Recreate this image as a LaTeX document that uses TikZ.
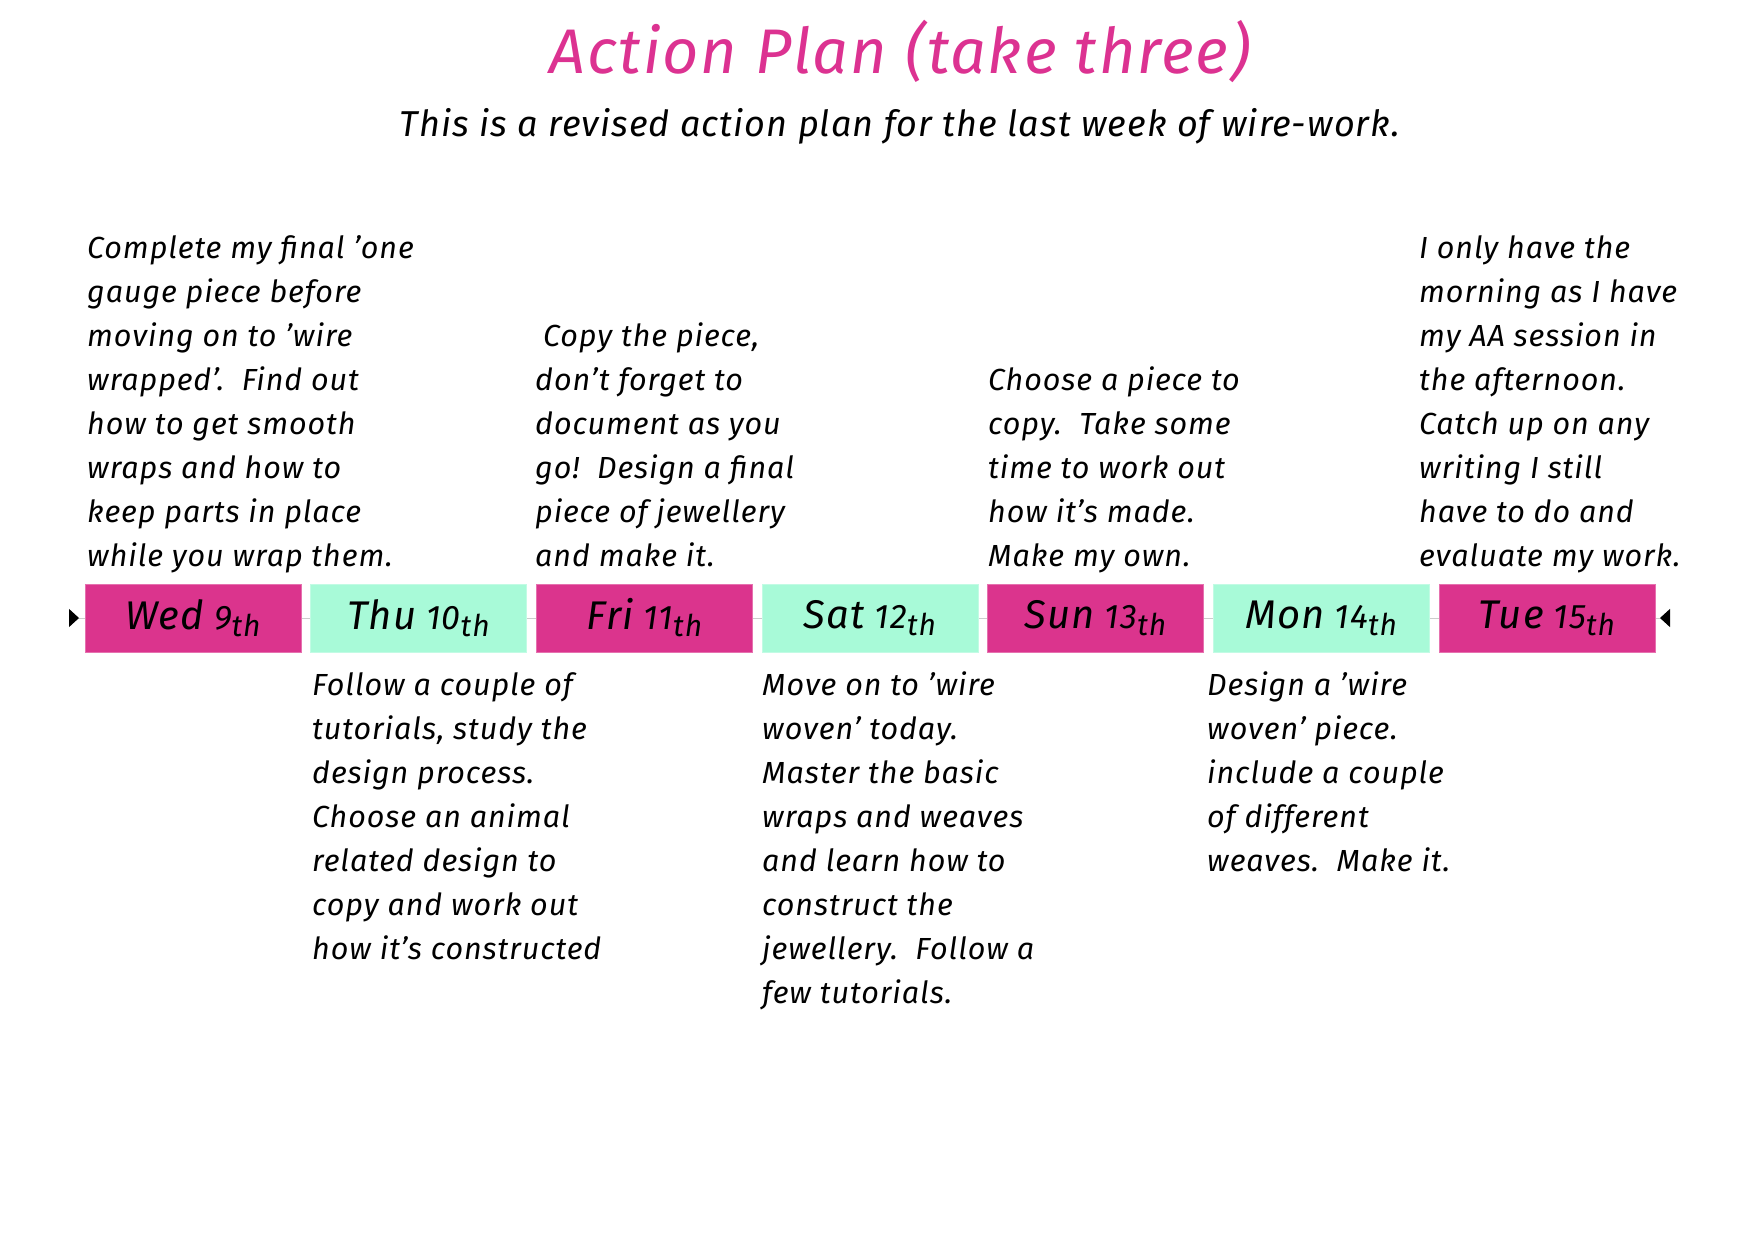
\documentclass[tikz,border=0pt]{standalone}
\usepackage{fontspec}
\setmainfont{Fira Sans}[LetterSpace=3]
\usetikzlibrary{arrows.meta}
\definecolor{daypink}{RGB}{219,52,141}
\definecolor{daymint}{RGB}{168,250,216}
\definecolor{titlepink}{RGB}{220,50,145}
\newcommand{\mydaylabel}[2]{\raisebox{-3pt}{{\fontsize{40}{42}\selectfont #1}\hspace{10pt}{\fontsize{34}{36}\selectfont #2}{\fontsize{30}{32}\selectfont\raisebox{-7pt}{th}}}}
\newcommand{\firststrut}{\rule{0pt}{34pt}}
\tikzset{
  daybase/.style={rectangle, minimum width=216pt, minimum height=68pt, inner sep=0pt, font=\itshape, line width=0.8pt},
  dayboxpink/.style={daybase, fill=daypink, draw=daypink!70!white},
  dayboxmint/.style={daybase, fill=daymint, draw=daymint!70!white},
  notetext/.style={anchor=north west, inner sep=0pt, align=left, font=\fontsize{30.5}{44}\selectfont\itshape},
  tiptri/.tip={Triangle[reversed, length=10pt, width=18pt, color=black]}
}
\begin{document}
\begin{tikzpicture}[x=1pt,y=-1pt]
\useasboundingbox (0,0) rectangle (1754,1239);
\fill[white] (0,0) rectangle (1754,1239);

\node[font=\fontsize{63}{68}\selectfont\itshape, text=titlepink, anchor=base] (title) at (900,74) {Action Plan (take three)};
\node[font=\fontsize{36}{40}\selectfont\itshape, anchor=base] (subtitle) at (900,136) {This is a revised action plan for the last week of wire-work.};

\coordinate (tlL) at (69,618);
\coordinate (tlR) at (1670,618);
\draw[gray!40, line width=1pt, tiptri-tiptri] (tlL) -- (tlR);

\node[dayboxpink] (wed) at (193,618) {\mydaylabel{Wed}{9}};
\node[dayboxmint] (thu) at (418.5,618) {\mydaylabel{Thu}{10}};
\node[dayboxpink] (fri) at (644.5,618) {\mydaylabel{Fri}{11}};
\node[dayboxmint] (sat) at (870,618) {\mydaylabel{Sat}{12}};
\node[dayboxpink] (sun) at (1095.5,618) {\mydaylabel{Sun}{13}};
\node[dayboxmint] (mon) at (1321,618) {\mydaylabel{Mon}{14}};
\node[dayboxpink] (tue) at (1547,618) {\mydaylabel{Tue}{15}};

\node[notetext] (nwed) at (87,224) {\firststrut Complete my final 'one\\
gauge piece before\\
moving on to 'wire\\
wrapped'.\ \ Find out\\
how to get smooth\\
wraps and how to\\
keep parts in place\\
while you wrap them.};

\node[notetext] (nfri) at (535,312) {\firststrut\hspace*{8pt}Copy the piece,\\
don't forget to\\
document as you\\
go!\ \ Design a final\\
piece of jewellery\\
and make it.};

\node[notetext] (nsun) at (988,356) {\firststrut Choose a piece to\\
copy.\ \ Take some\\
time to work out\\
how it's made.\\
Make my own.};

\node[notetext] (ntue) at (1419,224) {\firststrut I only have the\\
morning as I have\\
my AA session in\\
the afternoon.\\
Catch up on any\\
writing I still\\
have to do and\\
evaluate my work.};

\node[notetext] (nthu) at (312,661) {\firststrut Follow a couple of\\
tutorials, study the\\
design process.\\
Choose an animal\\
related design to\\
copy and work out\\
how it's constructed};

\node[notetext] (nsat) at (762,661) {\firststrut Move on to 'wire\\
woven' today.\\
Master the basic\\
wraps and weaves\\
and learn how to\\
construct the\\
jewellery.\ \ Follow a\\
few tutorials.};

\node[notetext] (nmon) at (1207,661) {\firststrut Design a 'wire\\
woven' piece.\\
include a couple\\
of different\\
weaves.\ \ Make it.};
\end{tikzpicture}
\end{document}
